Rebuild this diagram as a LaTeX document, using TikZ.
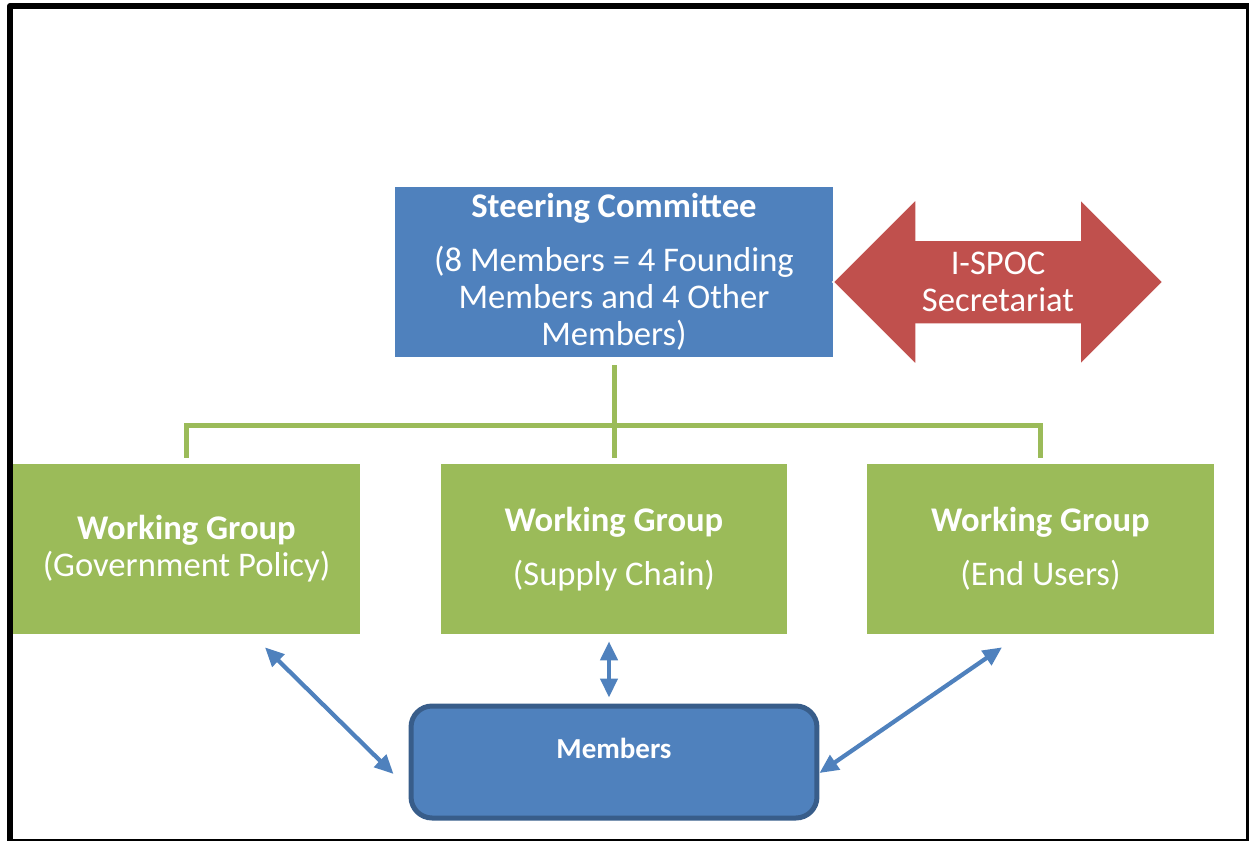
\documentclass[tikz,border=0pt]{standalone}
\usepackage{fontspec}
\setmainfont{Carlito}
\usetikzlibrary{arrows.meta}
\definecolor{boxblue}{HTML}{4F81BD}
\definecolor{edgeblue}{HTML}{385D8A}
\definecolor{groupgreen}{HTML}{9BBB59}
\definecolor{ispocred}{HTML}{C0504D}

\begin{document}
\begin{tikzpicture}[x=0.02cm, y=-0.02cm, >={Triangle[length=0.38cm,width=0.34cm]}]
				\useasboundingbox (0,0) rectangle (1249,840);
				\tikzstyle{every node} = [text=white, align=center, inner sep=0pt, font=\fontsize{19.7}{21}\selectfont];
				\tikzstyle{group} = [rectangle, fill=groupgreen, minimum width=6.94cm, minimum height=3.4cm];
				\tikzstyle{branch} = [draw=groupgreen, line width=0.1cm];
				\tikzstyle{link} = [<->, draw=boxblue, line width=0.085cm];
				% frame
				\draw[line width=0.12cm, line join=round] (10,6) rectangle (1249,842);
				% boxes
				\node[rectangle, fill=boxblue, minimum width=8.76cm, minimum height=3.4cm] (steer) at (614,272)
					{\textbf{Steering Committee}\\[9.6pt](8 Members = 4 Founding\\Members and 4 Other\\Members)};
				\fill[ispocred, draw=white, line width=0.03cm] (833,282) -- (916,199) -- (916,240) -- (1080,240) -- (1080,199)
					-- (1163,282) -- (1080,365) -- (1080,324) -- (916,324) -- (916,365) -- cycle;
				\node (ispoc) at (998,282) {I-SPOC\\Secretariat};
				\node[group] (wggov) at (186.5,549) {\textbf{Working Group}\\(Government Policy)};
				\node[group] (wgsupply) at (614,549) {\textbf{Working Group}\\[10pt](Supply Chain)};
				\node[group] (wgusers) at (1040.5,549) {\textbf{Working Group}\\[10pt](End Users)};
				\node[rectangle, rounded corners=0.42cm, fill=boxblue, draw=edgeblue, line width=0.1cm,
					minimum width=8.12cm, minimum height=2.24cm, font=\fontsize{16.5}{19}\selectfont] (members) at (614,762)
					{\textbf{Members}\\[-3pt]\mbox{}};
				% green tree
				\coordinate (hub) at (614,425);
				\draw[branch] ([yshift=-0.16cm]steer.south) -- ([yshift=0.12cm]wgsupply.north);
				\draw[branch] ([yshift=0.12cm]wggov.north) |- (hub) -| ([yshift=0.12cm]wgusers.north);
				% blue arrows
				\draw[link] ([xshift=1.57cm,yshift=-0.26cm]wggov.south) -- ([xshift=-0.3cm,yshift=-0.24cm]members.west);
				\draw[link] ([xshift=-0.1cm,yshift=-0.14cm]wgsupply.south) -- ([xshift=-0.1cm,yshift=0.12cm]members.north);
				\draw[link] ([xshift=-0.77cm,yshift=-0.26cm]wgusers.south) -- ([xshift=0.0cm,yshift=-0.22cm]members.east);
			\end{tikzpicture}
\end{document}
